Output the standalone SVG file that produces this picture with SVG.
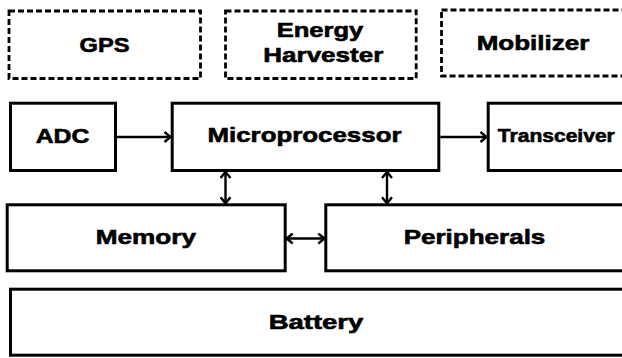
<svg xmlns="http://www.w3.org/2000/svg" width="622" height="358" viewBox="0 0 622 358">
<style>
.box{fill:#fff;stroke:#000;stroke-width:3}
.dash{fill:#fff;stroke:#000;stroke-width:2.8;stroke-dasharray:6 3}
.lbl{font-family:"Liberation Sans",Arial,sans-serif;font-weight:bold;font-size:21px;fill:#000;stroke:#000;stroke-width:0.6;text-anchor:middle}
.conn line{stroke:#000;stroke-width:2.4;fill:none}
</style>
<defs>
<marker id="ah" viewBox="0 0 10 12" refX="8.5" refY="6" markerWidth="10" markerHeight="12" markerUnits="userSpaceOnUse" orient="auto-start-reverse">
<path d="M2.5,1 L8.5,6 L2.5,11" fill="none" stroke="#000" stroke-width="2.4"/>
</marker>
</defs>
<rect width="622" height="358" fill="#fff"/>
<g id="gps"><rect class="dash" x="9" y="11" width="191.5" height="67.5"/><text class="lbl" x="104.5" y="51.7" textLength="50" lengthAdjust="spacingAndGlyphs">GPS</text></g>
<g id="energy-harvester"><rect class="dash" x="225.5" y="11" width="190.7" height="67.5"/><text class="lbl" x="320" y="36.7" textLength="86.7" lengthAdjust="spacingAndGlyphs">Energy</text><text class="lbl" x="323.3" y="61.7" textLength="120" lengthAdjust="spacingAndGlyphs">Harvester</text></g>
<g id="mobilizer"><rect class="dash" x="441.5" y="10" width="190" height="66"/><text class="lbl" x="533" y="50" textLength="112.7" lengthAdjust="spacingAndGlyphs">Mobilizer</text></g>
<g id="adc"><rect class="box" x="10.5" y="103.2" width="105" height="67.3"/><text class="lbl" x="62.5" y="142.5" textLength="53.7" lengthAdjust="spacingAndGlyphs">ADC</text></g>
<g id="microprocessor"><rect class="box" x="172.2" y="103.2" width="266.6" height="67.3"/><text class="lbl" x="304.5" y="141.7" textLength="194" lengthAdjust="spacingAndGlyphs">Microprocessor</text></g>
<g id="transceiver"><rect class="box" x="488.2" y="103.2" width="150" height="67.3"/><text class="lbl" x="556.3" y="141.7" style="font-size:18.7px" textLength="117" lengthAdjust="spacingAndGlyphs">Transceiver</text></g>
<g id="memory"><rect class="box" x="7.2" y="204.8" width="278" height="66"/><text class="lbl" x="145.8" y="244" textLength="100.3" lengthAdjust="spacingAndGlyphs">Memory</text></g>
<g id="peripherals"><rect class="box" x="325.8" y="204.8" width="310" height="66"/><text class="lbl" x="474.5" y="244" textLength="141.7" lengthAdjust="spacingAndGlyphs">Peripherals</text></g>
<g id="battery"><rect class="box" x="10.5" y="289.2" width="625" height="66"/><text class="lbl" x="316" y="329.3" textLength="94.7" lengthAdjust="spacingAndGlyphs">Battery</text></g>
<g id="connectors" class="conn">
<line x1="117" y1="137" x2="170.5" y2="137" marker-end="url(#ah)"/>
<line x1="440.3" y1="137" x2="486.5" y2="137" marker-end="url(#ah)"/>
<line x1="225.5" y1="172" x2="225.5" y2="203.3" marker-start="url(#ah)" marker-end="url(#ah)"/>
<line x1="387" y1="172" x2="387" y2="203.3" marker-start="url(#ah)" marker-end="url(#ah)"/>
<line x1="286.7" y1="238.5" x2="324.3" y2="238.5" marker-start="url(#ah)" marker-end="url(#ah)"/>
</g>
</svg>
